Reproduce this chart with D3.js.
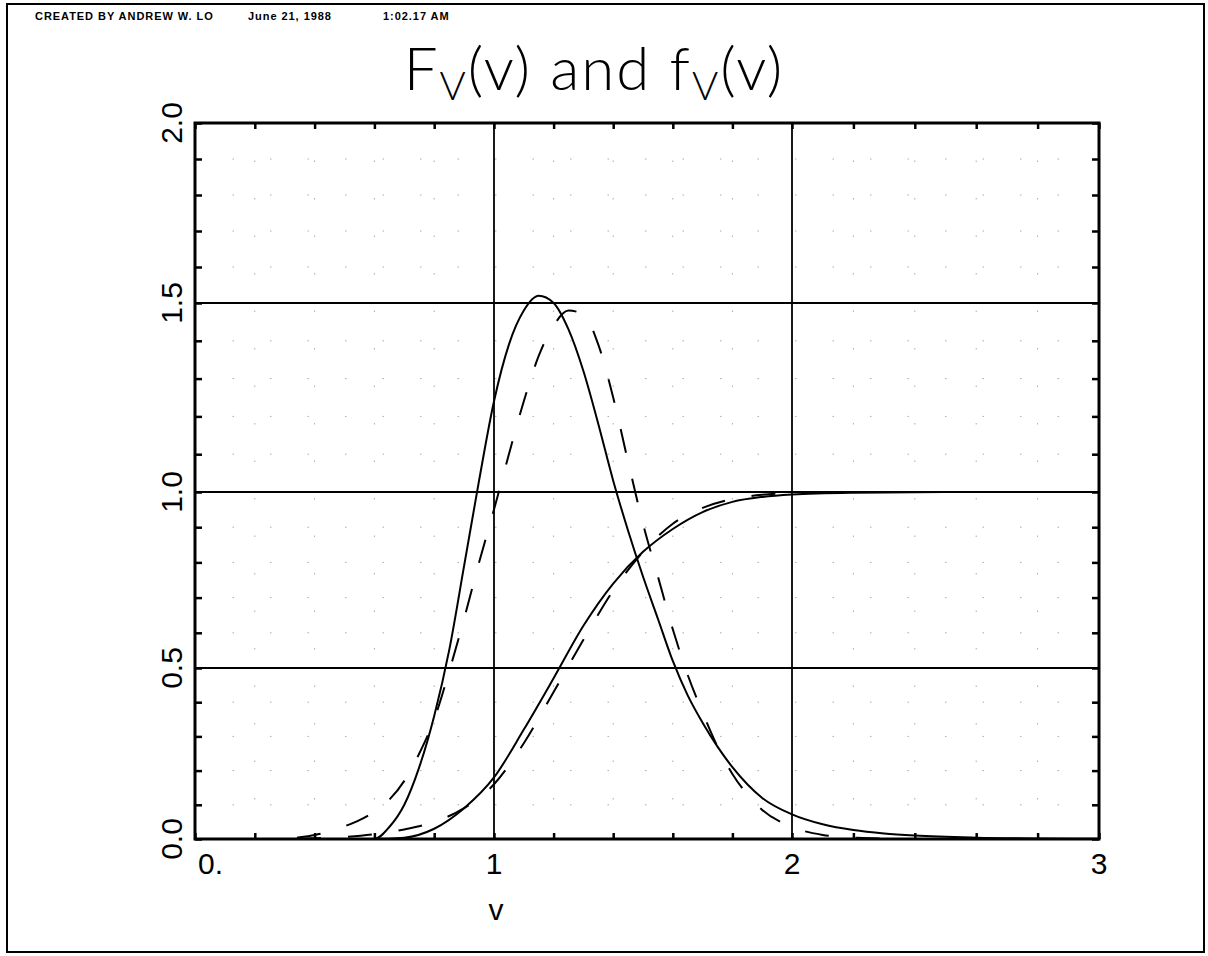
<!DOCTYPE html>
<html>
<head>
<meta charset="utf-8">
<script src="https://cdn.jsdelivr.net/npm/d3@7"></script>
<style>
  body { margin: 0; background: #fff; }
  svg { display: block; }
  .lbl { font-family: "Liberation Sans", Arial, sans-serif; fill: #000; }
</style>
</head>
<body>
<div id="chart"></div>
<script>
// tick values and labels
var xMajor      = [0, 1, 2, 3];
var xMajorLabel = ['0.', '1', '2', '3'];
var yMajor      = [0, 0.5, 1, 1.5, 2];
var yMajorLabel = ['0.0', '0.5', '1.0', '1.5', '2.0'];
var xGridLines  = [1, 2];
var yGridLines  = [0.5, 1, 1.5];

// f_V(v), solid
var pdfSolidV = [0, 0.5, 0.6, 0.65, 0.7, 0.75, 0.8, 0.85, 0.9, 0.95, 1.0, 1.05, 1.1, 1.15, 1.2, 1.25, 1.3, 1.35, 1.4, 1.45, 1.5, 1.55, 1.6, 1.65, 1.7, 1.75, 1.8, 1.85, 1.9, 2.0, 2.1, 2.2, 2.3, 2.4, 2.6, 2.8, 3.0];
var pdfSolidY = [0, 0, 0, 0.035, 0.10, 0.21, 0.36, 0.55, 0.79, 1.03, 1.24, 1.39, 1.48, 1.52, 1.50, 1.43, 1.32, 1.18, 1.03, 0.89, 0.76, 0.64, 0.52, 0.42, 0.34, 0.27, 0.21, 0.16, 0.12, 0.072, 0.043, 0.026, 0.016, 0.01, 0.004, 0.0015, 0.0005];

// f_V(v), dashed
var pdfDashV = [0, 0.3, 0.35, 0.4, 0.45, 0.5, 0.55, 0.6, 0.65, 0.7, 0.75, 0.8, 0.85, 0.9, 0.95, 1.0, 1.05, 1.1, 1.15, 1.2, 1.25, 1.3, 1.35, 1.4, 1.45, 1.5, 1.55, 1.6, 1.65, 1.7, 1.75, 1.8, 1.85, 1.9, 2.0, 2.1, 2.2, 2.4, 3.0];
var pdfDashY = [0, 0, 0.005, 0.012, 0.022, 0.037, 0.055, 0.08, 0.115, 0.17, 0.25, 0.35, 0.49, 0.64, 0.80, 0.95, 1.10, 1.24, 1.36, 1.44, 1.48, 1.47, 1.39, 1.25, 1.08, 0.91, 0.76, 0.61, 0.48, 0.37, 0.27, 0.19, 0.13, 0.085, 0.035, 0.012, 0.004, 0, 0];

// F_V(v), solid
var cdfSolidV = [0, 0.6, 0.7, 0.8, 0.9, 1.0, 1.1, 1.2, 1.3, 1.4, 1.5, 1.6, 1.7, 1.8, 1.9, 2.0, 2.2, 2.5, 3.0];
var cdfSolidY = [0, 0, 0.004, 0.03, 0.09, 0.18, 0.32, 0.47, 0.62, 0.74, 0.83, 0.895, 0.943, 0.972, 0.986, 0.993, 0.998, 1.0, 1.0];

// F_V(v), dashed
var cdfDashV = [0, 0.3, 0.4, 0.5, 0.6, 0.7, 0.8, 0.9, 1.0, 1.1, 1.2, 1.3, 1.4, 1.5, 1.6, 1.7, 1.8, 1.9, 2.0, 2.2, 3.0];
var cdfDashY = [0, 0, 0.002, 0.006, 0.014, 0.028, 0.05, 0.09, 0.16, 0.28, 0.43, 0.58, 0.72, 0.83, 0.91, 0.955, 0.98, 0.992, 0.997, 1.0, 1.0];

var width  = 1208;
var height = 956;

var svg = d3.select('#chart')
    .append('svg')
    .attr('width', width)
    .attr('height', height);

// the scanned plot is a bit uneven, so the scales follow the printed grid
var x_scale = d3.scaleLinear()
    .domain([0, 1, 2, 3])
    .range([195, 494, 792, 1099]);

var y_scale = d3.scaleLinear()
    .domain([0, 0.5, 1, 1.5, 2])
    .range([839, 668, 492, 303, 123]);

// (don't call these top/left: window.top is read-only)
var plot_left   = x_scale(0);
var plot_right  = x_scale(3);
var plot_top    = y_scale(2);
var plot_bottom = y_scale(0);

// page border
svg.append('rect')
    .attr('x', 7).attr('y', 4)
    .attr('width', 1197).attr('height', 948)
    .attr('fill', 'none')
    .attr('stroke', '#000')
    .attr('stroke-width', 2);

// header stamp
var header = svg.append('text')
    .attr('class', 'lbl')
    .attr('y', 20)
    .attr('font-size', 11)
    .attr('font-weight', 'bold')
    .attr('letter-spacing', 0.95);
header.append('tspan').attr('x', 35).text('CREATED BY ANDREW W. LO');
header.append('tspan').attr('x', 248).text('June 21, 1988');
header.append('tspan').attr('x', 383).text('1:02.17 AM');

// title
var title = svg.append('text')
    .attr('x', 594)
    .attr('y', 90)
    .attr('text-anchor', 'middle')
    .attr('font-family', 'Lato, "DejaVu Sans", sans-serif')
    .attr('font-weight', 300)
    .attr('font-size', 60)
    .attr('letter-spacing', 2);
title.append('tspan').text('F');
title.append('tspan').attr('font-size', 40).attr('dy', 10).text('V');
title.append('tspan').attr('dy', -10).text('(v)  and  f');
title.append('tspan').attr('font-size', 40).attr('dy', 10).text('V');
title.append('tspan').attr('dy', -10).text('(v)');

// faint dotted minor grid
var minorY = d3.range(1, 20).map(function(i) { return i / 10; }).filter(function(v) { return yGridLines.indexOf(v) < 0; });
var minorX = d3.range(1, 15).map(function(i) { return i / 5; }).filter(function(v) { return xGridLines.indexOf(v) < 0; });

svg.append('g').selectAll('line')
    .data(minorY)
    .enter().append('line')
    .attr('x1', plot_left).attr('x2', plot_right)
    .attr('y1', function(d) { return y_scale(d); })
    .attr('y2', function(d) { return y_scale(d); })
    .attr('stroke', '#aaa')
    .attr('stroke-width', 1)
    .attr('stroke-dasharray', '1.5,36');

svg.append('g').selectAll('line')
    .data(minorX)
    .enter().append('line')
    .attr('y1', plot_top).attr('y2', plot_bottom)
    .attr('x1', function(d) { return x_scale(d); })
    .attr('x2', function(d) { return x_scale(d); })
    .attr('stroke', '#aaa')
    .attr('stroke-width', 1)
    .attr('stroke-dasharray', '1.5,36');

// major grid
svg.append('g').selectAll('line')
    .data(yGridLines)
    .enter().append('line')
    .attr('x1', plot_left).attr('x2', plot_right)
    .attr('y1', function(d) { return y_scale(d); })
    .attr('y2', function(d) { return y_scale(d); })
    .attr('stroke', '#000')
    .attr('stroke-width', 2);

svg.append('g').selectAll('line')
    .data(xGridLines)
    .enter().append('line')
    .attr('y1', plot_top).attr('y2', plot_bottom)
    .attr('x1', function(d) { return x_scale(d); })
    .attr('x2', function(d) { return x_scale(d); })
    .attr('stroke', '#000')
    .attr('stroke-width', 1.8);

// inward ticks on all four sides
var yTicks = d3.range(0, 21).map(function(i) { return i / 10; });
var xTicks = d3.range(0, 16).map(function(i) { return i / 5; });

function style_axis(g) {
    g.select('.domain').remove();
    g.selectAll('.tick line').attr('stroke', '#000').attr('stroke-width', 2.5);
}

svg.append('g')
    .attr('transform', 'translate(' + plot_left + ',0)')
    .call(d3.axisLeft(y_scale).tickValues(yTicks).tickSize(-7).tickFormat(''))
    .call(style_axis);
svg.append('g')
    .attr('transform', 'translate(' + plot_right + ',0)')
    .call(d3.axisRight(y_scale).tickValues(yTicks).tickSize(-7).tickFormat(''))
    .call(style_axis);
svg.append('g')
    .attr('transform', 'translate(0,' + plot_bottom + ')')
    .call(d3.axisBottom(x_scale).tickValues(xTicks).tickSize(-6).tickFormat(''))
    .call(style_axis);
svg.append('g')
    .attr('transform', 'translate(0,' + plot_top + ')')
    .call(d3.axisTop(x_scale).tickValues(xTicks).tickSize(-6).tickFormat(''))
    .call(style_axis);

// plot frame
svg.append('rect')
    .attr('x', plot_left).attr('y', plot_top)
    .attr('width', plot_right - plot_left).attr('height', plot_bottom - plot_top)
    .attr('fill', 'none')
    .attr('stroke', '#000')
    .attr('stroke-width', 3);

// curves
var line = d3.line()
    .x(function(d) { return x_scale(d[0]); })
    .y(function(d) { return y_scale(d[1]); })
    .curve(d3.curveMonotoneX);

var curves = [
    { v: pdfSolidV, y: pdfSolidY, dash: null },
    { v: cdfSolidV, y: cdfSolidY, dash: null },
    { v: pdfDashV,  y: pdfDashY,  dash: '24,27' },
    { v: cdfDashV,  y: cdfDashY,  dash: '24,27' }
];

curves.forEach(function(c) {
    svg.append('path')
        .datum(d3.zip(c.v, c.y))
        .attr('d', line)
        .attr('fill', 'none')
        .attr('stroke', '#000')
        .attr('stroke-width', 2)
        .attr('stroke-dasharray', c.dash);
});

// y labels (rotated)
svg.append('g').selectAll('text')
    .data(yMajor)
    .enter().append('text')
    .attr('class', 'lbl')
    .attr('font-size', 30)
    .attr('text-anchor', 'middle')
    .attr('transform', function(d) { return 'translate(182,' + y_scale(d) + ') rotate(-90)'; })
    .text(function(d, i) { return yMajorLabel[i]; });

// x labels
svg.append('g').selectAll('text')
    .data(xMajor)
    .enter().append('text')
    .attr('class', 'lbl')
    .attr('font-size', 30)
    .attr('text-anchor', function(d) { return d === 0 ? 'start' : 'middle'; })
    .attr('x', function(d) { return d === 0 ? x_scale(d) + 3 : x_scale(d); })
    .attr('y', 874)
    .text(function(d, i) { return xMajorLabel[i]; });

// axis title
svg.append('text')
    .attr('class', 'lbl')
    .attr('x', x_scale(1) + 2)
    .attr('y', 920)
    .attr('text-anchor', 'middle')
    .attr('font-size', 30)
    .text('v');
</script>
</body>
</html>
